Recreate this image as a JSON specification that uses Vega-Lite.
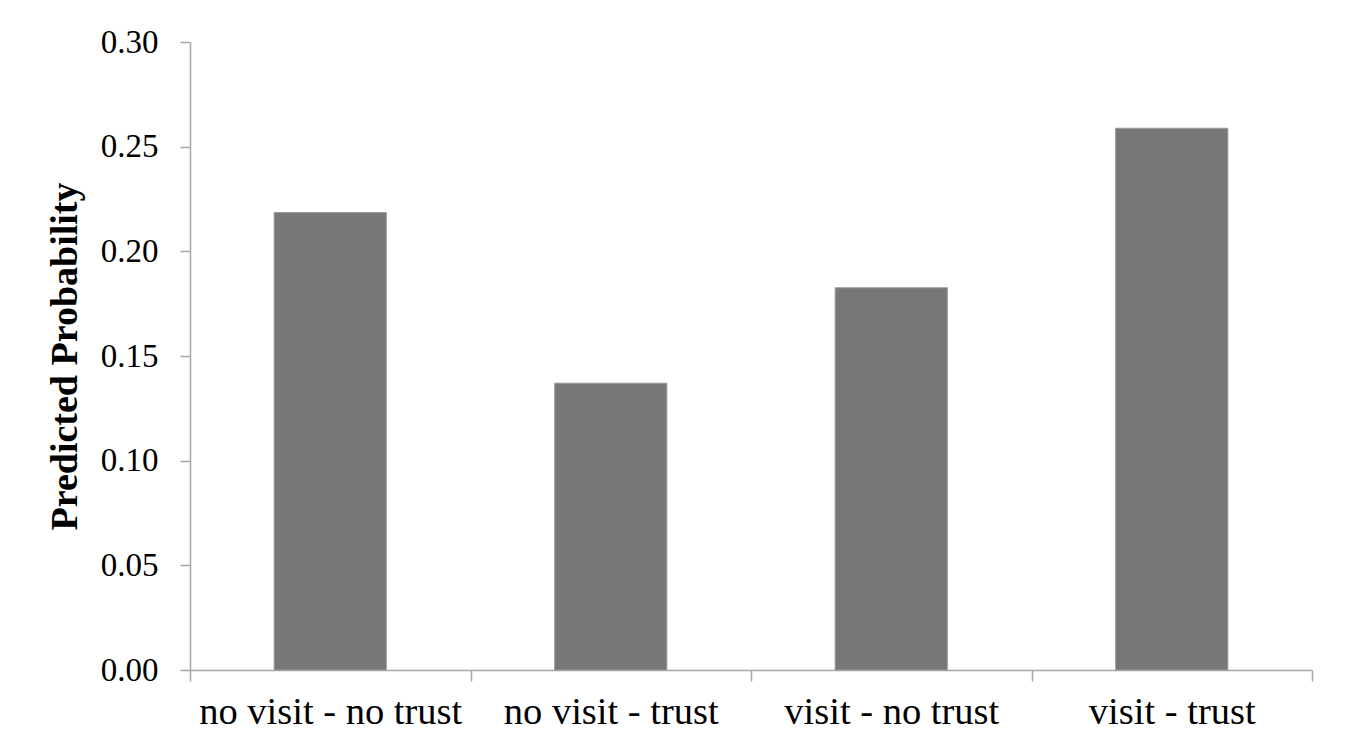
{
  "$schema": "https://vega.github.io/schema/vega-lite/v6.json",
  "width": 1122,
  "height": 628,
  "autosize": "none",
  "padding": {"left": 190, "top": 42, "right": 43, "bottom": 84},
  "background": "white",
  "config": {
    "view": {"stroke": null},
    "font": "Liberation Serif"
  },
  "data": {
    "values": [
      {"group": "no visit - no trust", "prob": 0.2185},
      {"group": "no visit - trust", "prob": 0.137},
      {"group": "visit - no trust", "prob": 0.1826},
      {"group": "visit - trust", "prob": 0.2588}
    ]
  },
  "mark": {"type": "bar", "color": "#777777", "stroke": "#9a9a9a", "strokeWidth": 1, "width": {"band": 0.4}},
  "encoding": {
    "x": {
      "field": "group",
      "type": "nominal",
      "sort": null,
      "scale": {"paddingInner": 0, "paddingOuter": 0},
      "axis": {
        "title": null,
        "labelAngle": 0,
        "labelLimit": 0,
        "labelFont": "Liberation Serif",
        "labelFontSize": 38.5,
        "labelColor": "black",
        "labelPadding": 12,
        "tickBand": "extent",
        "tickSize": 11,
        "tickColor": "#a6a6a6",
        "domainColor": "#a6a6a6",
        "tickWidth": 1.5,
        "domainWidth": 1.5,
        "grid": false
      }
    },
    "y": {
      "field": "prob",
      "type": "quantitative",
      "scale": {"domain": [0, 0.3]},
      "axis": {
        "title": "Predicted Probability",
        "titleFont": "Liberation Serif",
        "titleFontSize": 38,
        "titleFontWeight": "bold",
        "titleColor": "black",
        "titlePadding": 16,
        "values": [0, 0.05, 0.1, 0.15, 0.2, 0.25, 0.3],
        "format": ".2f",
        "labelFont": "Liberation Serif",
        "labelFontSize": 33,
        "labelColor": "black",
        "labelPadding": 22,
        "tickSize": 10,
        "tickColor": "#a6a6a6",
        "domainColor": "#a6a6a6",
        "tickWidth": 1.5,
        "domainWidth": 1.5,
        "grid": false
      }
    }
  }
}
